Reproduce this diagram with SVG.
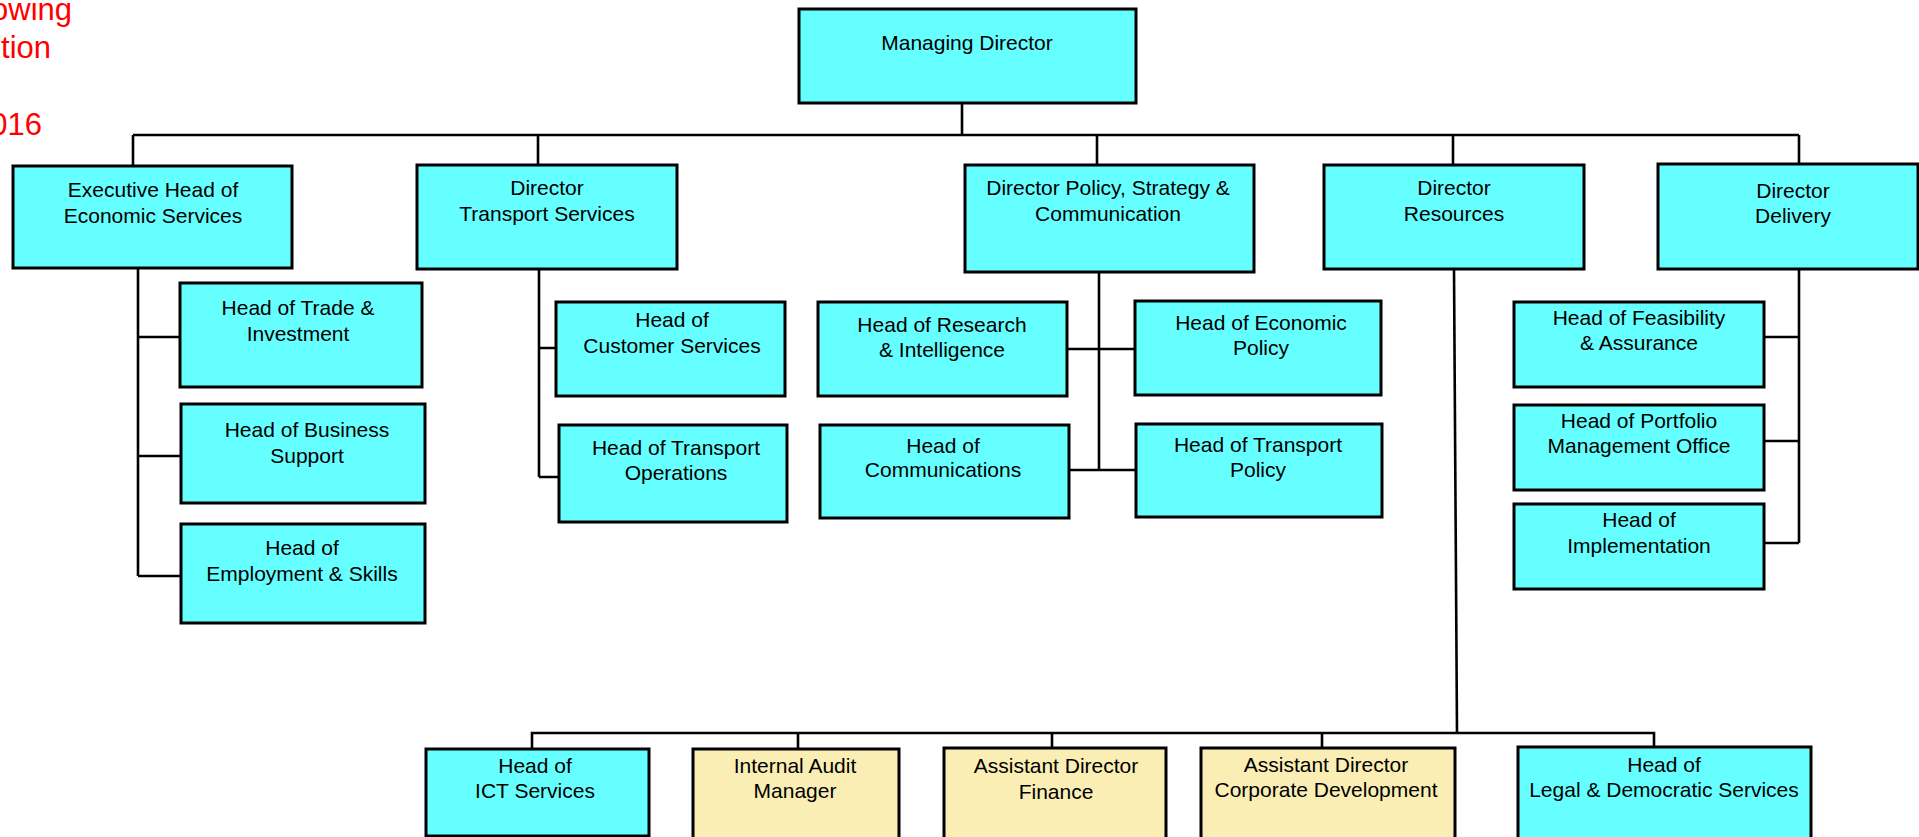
<svg xmlns="http://www.w3.org/2000/svg" width="1919" height="837" viewBox="0 0 1919 837">
<style>
.c{fill:#66FFFF;stroke:#000;stroke-width:3}
.y{fill:#FAEEB4;stroke:#000;stroke-width:3}
text{font-family:"Liberation Sans",Arial,sans-serif;font-size:21px;fill:#000;text-anchor:middle}
.red{fill:#FF0000;font-size:31px;text-anchor:end}
#connectors path{fill:none;stroke:#000;stroke-width:2.6}
</style>
<rect width="1919" height="837" fill="#fff"/>
<g id="note">
<text class="red" x="72" y="20">owing</text>
<text class="red" x="51" y="58">tion</text>
<text class="red" x="42" y="135">016</text>
</g>
<g id="connectors">
<path d="M962 103V135M133 135H1799M133 135V166M538 135V165M1097 135V165M1453 135V165M1799 135V164"/>
<path d="M138 268V576M138 337H180M138 456H181M138 576H181"/>
<path d="M539 269V477M539 348H556M539 477H559"/>
<path d="M1099 272V470M1067 349H1135M1069 470H1136"/>
<path d="M1799 269V543M1764 337H1799M1764 441H1799M1764 543H1799"/>
<path d="M1454 269L1457 733"/>
<path d="M532 749V733H1654V747M798 733V749M1052 733V748M1322 733V748"/>
</g>
<g id="md"><rect class="c" x="799" y="9" width="337" height="94"/><text x="967" y="50">Managing Director</text></g>
<g id="exec"><rect class="c" x="13" y="166" width="279" height="102"/><text x="153" y="197">Executive Head of</text><text x="153" y="223">Economic Services</text></g>
<g id="dts"><rect class="c" x="417" y="165" width="260" height="104"/><text x="547" y="195">Director</text><text x="547" y="221">Transport Services</text></g>
<g id="dpsc"><rect class="c" x="965" y="165" width="289" height="107"/><text x="1108" y="195">Director Policy, Strategy &amp;</text><text x="1108" y="221">Communication</text></g>
<g id="dr"><rect class="c" x="1324" y="165" width="260" height="104"/><text x="1454" y="195">Director</text><text x="1454" y="221">Resources</text></g>
<g id="dd"><rect class="c" x="1658" y="164" width="260" height="105"/><text x="1793" y="198">Director</text><text x="1793" y="223">Delivery</text></g>
<g id="trade"><rect class="c" x="180" y="283" width="242" height="104"/><text x="298" y="315">Head of Trade &amp;</text><text x="298" y="341">Investment</text></g>
<g id="business"><rect class="c" x="181" y="404" width="244" height="99"/><text x="307" y="437">Head of Business</text><text x="307" y="463">Support</text></g>
<g id="employment"><rect class="c" x="181" y="524" width="244" height="99"/><text x="302" y="555">Head of</text><text x="302" y="581">Employment &amp; Skills</text></g>
<g id="customer"><rect class="c" x="556" y="302" width="229" height="94"/><text x="672" y="327">Head of</text><text x="672" y="353">Customer Services</text></g>
<g id="transops"><rect class="c" x="559" y="425" width="228" height="97"/><text x="676" y="455">Head of Transport</text><text x="676" y="480">Operations</text></g>
<g id="research"><rect class="c" x="818" y="302" width="249" height="94"/><text x="942" y="332">Head of Research</text><text x="942" y="357">&amp; Intelligence</text></g>
<g id="comms"><rect class="c" x="820" y="425" width="249" height="93"/><text x="943" y="453">Head of</text><text x="943" y="477">Communications</text></g>
<g id="econ"><rect class="c" x="1135" y="301" width="246" height="94"/><text x="1261" y="330">Head of Economic</text><text x="1261" y="355">Policy</text></g>
<g id="tpolicy"><rect class="c" x="1136" y="424" width="246" height="93"/><text x="1258" y="452">Head of Transport</text><text x="1258" y="477">Policy</text></g>
<g id="feasibility"><rect class="c" x="1514" y="302" width="250" height="85"/><text x="1639" y="325">Head of Feasibility</text><text x="1639" y="350">&amp; Assurance</text></g>
<g id="portfolio"><rect class="c" x="1514" y="405" width="250" height="85"/><text x="1639" y="428">Head of Portfolio</text><text x="1639" y="453">Management Office</text></g>
<g id="implementation"><rect class="c" x="1514" y="504" width="250" height="85"/><text x="1639" y="527">Head of</text><text x="1639" y="553">Implementation</text></g>
<g id="ict"><rect class="c" x="426" y="749" width="223" height="87"/><text x="535" y="773">Head of</text><text x="535" y="798">ICT Services</text></g>
<g id="audit"><rect class="y" x="693" y="749" width="206" height="100"/><text x="795" y="773">Internal Audit</text><text x="795" y="798">Manager</text></g>
<g id="finance"><rect class="y" x="944" y="748" width="222" height="100"/><text x="1056" y="773">Assistant Director</text><text x="1056" y="799">Finance</text></g>
<g id="corpdev"><rect class="y" x="1201" y="748" width="254" height="100"/><text x="1326" y="772">Assistant Director</text><text x="1326" y="797">Corporate Development</text></g>
<g id="legal"><rect class="c" x="1518" y="747" width="293" height="100"/><text x="1664" y="772">Head of</text><text x="1664" y="797">Legal &amp; Democratic Services</text></g>
</svg>
